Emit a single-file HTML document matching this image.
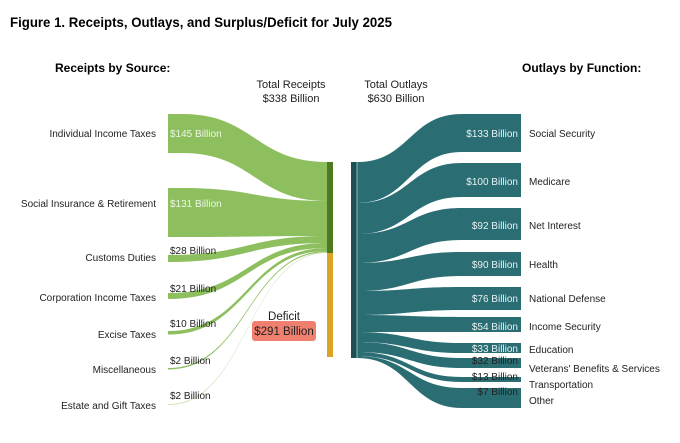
<!DOCTYPE html>
<html><head><meta charset="utf-8"><style>
body{margin:0;background:#fff}
svg{display:block;font-family:"Liberation Sans",Arial,sans-serif}
</style></head><body>
<svg id="s" width="680" height="443" xmlns="http://www.w3.org/2000/svg">
<text x="10" y="27" font-size="14" font-weight="bold" textLength="382" lengthAdjust="spacingAndGlyphs">Figure 1. Receipts, Outlays, and Surplus/Deficit for July 2025</text>
<text x="55" y="72" font-size="12" font-weight="bold">Receipts by Source:</text>
<text x="522" y="72" font-size="12" font-weight="bold">Outlays by Function:</text>
<g font-size="11" text-anchor="middle" fill="#222">
<text x="291" y="88">Total Receipts</text><text x="291" y="102">$338 Billion</text>
<text x="396" y="88">Total Outlays</text><text x="396" y="102">$630 Billion</text>
</g>
<g id="flows"></g>
<rect x="327" y="162" width="6" height="91" fill="#4d7a1c"/>
<rect x="327" y="253" width="6" height="104" fill="#dea325"/>
<rect x="351" y="162" width="6" height="196" fill="#1f4f55"/>
<line x1="357" y1="162" x2="357" y2="358" stroke="#cfe" stroke-width="0.6"/>
<text x="284" y="320" font-size="11.5" text-anchor="middle" fill="#222">Deficit</text>
<rect x="252" y="321" width="64" height="20" rx="3" fill="#ef7f6e"/>
<text x="284" y="335" font-size="11.5" text-anchor="middle" fill="#222">$291 Billion</text>
<g id="labels" font-size="10" fill="#222"></g>
</svg>
<script>
var NS="http://www.w3.org/2000/svg",fl=document.getElementById('flows'),lb=document.getElementById('labels');
function flow(x0,a0,b0,x1,a1,b1,c){var m=(x0+x1)/2;var p=document.createElementNS(NS,'path');
p.setAttribute('d','M'+x0+','+a0+' C'+m+','+a0+' '+m+','+a1+' '+x1+','+a1+' L'+x1+','+b1+' C'+m+','+b1+' '+m+','+b0+' '+x0+','+b0+' Z');
p.setAttribute('fill',c);fl.appendChild(p);}
function rect(x,y,w,h,c){var r=document.createElementNS(NS,'rect');r.setAttribute('x',x);r.setAttribute('y',y);r.setAttribute('width',w);r.setAttribute('height',h);r.setAttribute('fill',c);fl.appendChild(r);}
function txt(x,y,s,anchor,fill){var t=document.createElementNS(NS,'text');t.setAttribute('x',x);t.setAttribute('y',y);if(anchor)t.setAttribute('text-anchor',anchor);if(fill)t.setAttribute('fill',fill);t.textContent=s;lb.appendChild(t);}
var G='#8dbf5f';
var R=[[114,153,162,201,'Individual Income Taxes','$145 Billion',137,137],
[188,237,201,236,'Social Insurance & Retirement','$131 Billion',207,207],
[255,262,236,243,'Customs Duties','$28 Billion',254,261],
[293,299,243,248,'Corporation Income Taxes','$21 Billion',292,301],
[331,334.5,248,251,'Excise Taxes','$10 Billion',327,338],
[368,369.5,251,252.2,'Miscellaneous','$2 Billion',364,373],
[404,405,252.2,253,'Estate and Gift Taxes','$2 Billion',399,409]];
R.forEach(function(r,i){
 if(i<2){rect(168,r[0],14,r[1]-r[0],G);flow(182,r[0],r[1],327,r[2],r[3],G);}
 else{flow(168,r[0],r[1],327,r[2],r[3],i==6?'#cfe3b8':G);}
 txt(156,r[7],r[4],'end');
 txt(170,r[6],r[5],null,i<2?'#eef6e4':'#222');
});
var T='#2a6e74';
var O=[[114,152,162,203,'Social Security','$133 Billion'],
[163,197,203,234,'Medicare','$100 Billion'],
[208,240,234,263,'Net Interest','$92 Billion'],
[252,276,263,291,'Health','$90 Billion'],
[287,310,291,315,'National Defense','$76 Billion'],
[317,332,315,332,'Income Security','$54 Billion'],
[343,353,332,342,'Education','$33 Billion'],
[358,368,342,352,"Veterans' Benefits & Services",'$32 Billion'],
[377,382,352,356,'Transportation','$13 Billion'],
[388,408,356,358,'Other','$7 Billion']];
var ly=[137,185,229,268,302,330,353,372,388,404];
var vy=[137,185,229,268,302,330,352,364,380,395];
O.forEach(function(o,i){
 flow(357,o[2],o[3],462,o[0],o[1],T);rect(462,o[0],59,o[1]-o[0],T);
 txt(529,ly[i],o[4]);
 txt(518,vy[i],o[5],'end',i<7?'#e6f2f3':'#222');
});
</script>
</body></html>
